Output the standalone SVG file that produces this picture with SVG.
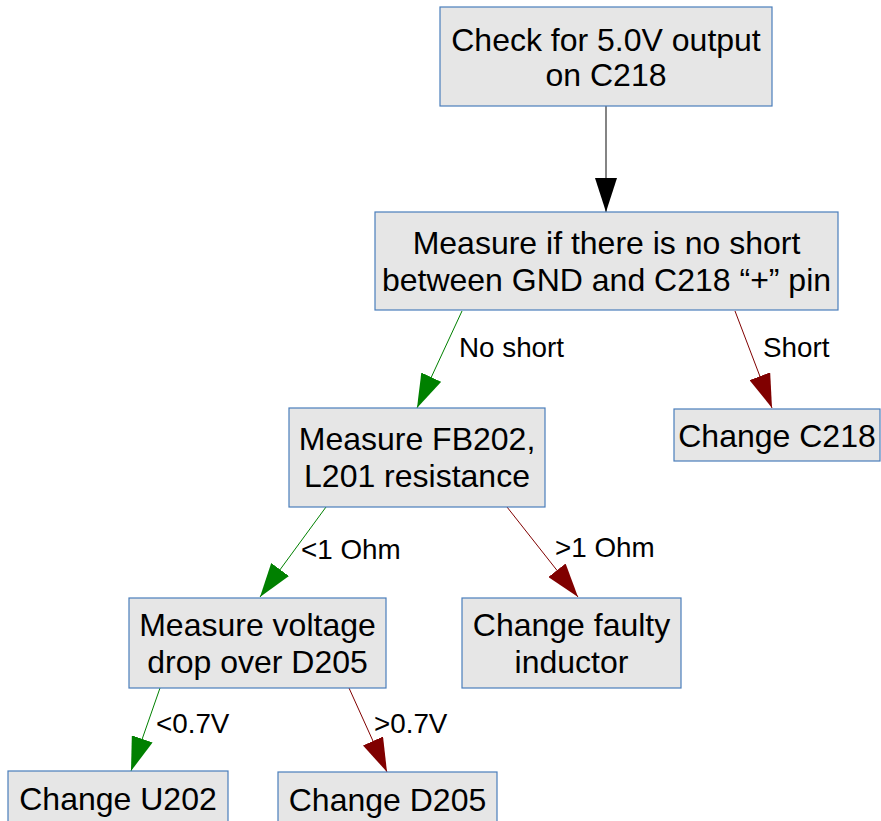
<svg xmlns="http://www.w3.org/2000/svg" width="881" height="821" viewBox="0 0 881 821">
<style>
.box{fill:#e6e6e6;stroke:#4a7ebb;stroke-width:1.2}
.t{font-family:"Liberation Sans",Arial,sans-serif;font-size:32px;fill:#000;text-anchor:middle}
.l{font-family:"Liberation Sans",Arial,sans-serif;font-size:27.8px;fill:#000}
.k{stroke:#333;stroke-width:1.2;fill:none}
.g{stroke:#008000;stroke-width:1;fill:none}
.r{stroke:#800000;stroke-width:1;fill:none}
</style>
<defs>
<marker id="ak" markerUnits="userSpaceOnUse" markerWidth="34" markerHeight="22" refX="34" refY="11" orient="auto"><path d="M0,0 L34,11 L0,22 z" fill="#000"/></marker>
<marker id="ag" markerUnits="userSpaceOnUse" markerWidth="34" markerHeight="22" refX="34" refY="11" orient="auto"><path d="M0,0 L34,11 L0,22 z" fill="#008000"/></marker>
<marker id="ar" markerUnits="userSpaceOnUse" markerWidth="34" markerHeight="22" refX="34" refY="11" orient="auto"><path d="M0,0 L34,11 L0,22 z" fill="#800000"/></marker>
</defs>
<rect width="881" height="821" fill="#fff"/>
<g id="connectors">
<line class="k" x1="606" y1="106" x2="606" y2="212" marker-end="url(#ak)"/>
<line class="g" x1="462" y1="311" x2="417" y2="408" marker-end="url(#ag)"/>
<line class="r" x1="735" y1="311" x2="772" y2="408" marker-end="url(#ar)"/>
<line class="g" x1="326" y1="507" x2="260" y2="597" marker-end="url(#ag)"/>
<line class="r" x1="507" y1="507" x2="578" y2="597" marker-end="url(#ar)"/>
<line class="g" x1="160" y1="688" x2="131" y2="771" marker-end="url(#ag)"/>
<line class="r" x1="349" y1="688" x2="387" y2="772" marker-end="url(#ar)"/>
<text class="l" x="459" y="357">No short</text>
<text class="l" x="763" y="357">Short</text>
<text class="l" x="301" y="559">&lt;1 Ohm</text>
<text class="l" x="555" y="557">&gt;1 Ohm</text>
<text class="l" x="156" y="733">&lt;0.7V</text>
<text class="l" x="374" y="733">&gt;0.7V</text>
</g>
<g id="n1"><rect class="box" x="440" y="7" width="332" height="99"/><text class="t" x="606" y="51">Check for 5.0V output</text><text class="t" x="606" y="86">on C218</text></g>
<g id="n2"><rect class="box" x="375" y="212" width="463" height="98"/><text class="t" x="606.5" y="254">Measure if there is no short</text><text class="t" x="606.5" y="291">between GND and C218 “+” pin</text></g>
<g id="n3"><rect class="box" x="289" y="408" width="256" height="99"/><text class="t" x="417" y="450">Measure FB202,</text><text class="t" x="417" y="487">L201 resistance</text></g>
<g id="n4"><rect class="box" x="674" y="409" width="206" height="52"/><text class="t" x="777" y="447">Change C218</text></g>
<g id="n5"><rect class="box" x="129" y="598" width="257" height="90"/><text class="t" x="257.5" y="636">Measure voltage</text><text class="t" x="257.5" y="673">drop over D205</text></g>
<g id="n6"><rect class="box" x="462" y="598" width="219" height="90"/><text class="t" x="571.5" y="636">Change faulty</text><text class="t" x="571.5" y="673">inductor</text></g>
<g id="n7"><rect class="box" x="8" y="771" width="220" height="60"/><text class="t" x="118" y="810">Change U202</text></g>
<g id="n8"><rect class="box" x="278" y="772" width="219" height="60"/><text class="t" x="387.5" y="811">Change D205</text></g>
</svg>
